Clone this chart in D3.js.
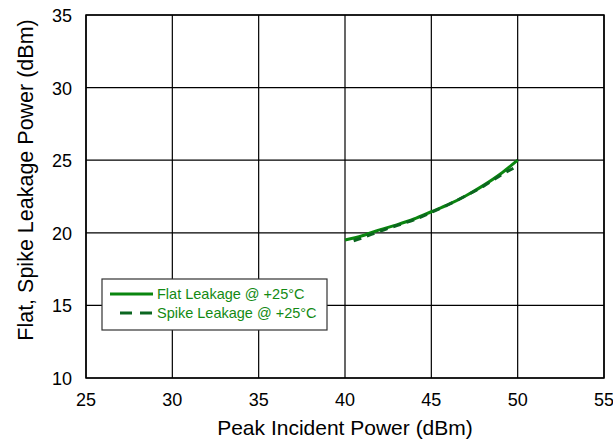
<!DOCTYPE html>
<html>
<head>
<meta charset="utf-8">
<script src="https://cdn.jsdelivr.net/npm/d3@7"></script>
<style>
  body { margin: 0; background: #fff; }
  svg { font-family: "Liberation Sans", Arial, sans-serif; }
</style>
</head>
<body>
<svg id="chart" width="613" height="443"></svg>
<script>
// data
let xTicks = [25, 30, 35, 40, 45, 50, 55];
let yTicks = [10, 15, 20, 25, 30, 35];
let flatPower = [40, 41, 42, 43, 44, 45, 46, 47, 48, 49, 50];
let flatLeak = [19.5, 19.8, 20.2, 20.55, 20.95, 21.45, 21.95, 22.55, 23.25, 24.05, 25.0];
let spikePower = [40.5, 41, 42, 43, 44, 45, 46, 47, 48, 49, 50];
let spikeLeak = [19.45, 19.65, 20.1, 20.5, 20.9, 21.4, 21.95, 22.55, 23.2, 23.95, 24.6];
let legendLabels = ['Flat Leakage @ +25°C', 'Spike Leakage @ +25°C'];

let svg = d3.select('#chart');
let margin = {left: 86, right: 9, top: 15, bottom: 65};
let w = 613, h = 443;

let x = d3.scaleLinear().domain([25, 55]).range([margin.left, w - margin.right]);
let y = d3.scaleLinear().domain([10, 35]).range([h - margin.bottom, margin.top]);

// grid
svg.append('g').selectAll('line').data(xTicks).join('line')
    .attr('x1', d => x(d)).attr('x2', d => x(d))
    .attr('y1', y(10)).attr('y2', y(35))
    .attr('stroke', '#000').attr('stroke-width', 1.2);
svg.append('g').selectAll('line').data(yTicks).join('line')
    .attr('x1', x(25)).attr('x2', x(55))
    .attr('y1', d => y(d)).attr('y2', d => y(d))
    .attr('stroke', '#000').attr('stroke-width', 1.2);
svg.append('rect')
    .attr('x', x(25)).attr('y', y(35))
    .attr('width', x(55) - x(25)).attr('height', y(10) - y(35))
    .attr('fill', 'none').attr('stroke', '#000').attr('stroke-width', 1.5);

// tick labels
svg.append('g').selectAll('text').data(xTicks).join('text')
    .attr('x', d => x(d)).attr('y', y(10) + 28)
    .attr('text-anchor', 'middle').attr('font-size', 18)
    .text(d => d);
svg.append('g').selectAll('text').data(yTicks).join('text')
    .attr('x', x(25) - 14).attr('y', d => y(d) + 7)
    .attr('text-anchor', 'end').attr('font-size', 18)
    .text(d => d);

// axis titles
svg.append('text')
    .attr('x', (x(25) + x(55)) / 2).attr('y', 435)
    .attr('text-anchor', 'middle').attr('font-size', 21)
    .text('Peak Incident Power (dBm)');
svg.append('text')
    .attr('transform', 'translate(33, 180) rotate(-90)')
    .attr('text-anchor', 'middle').attr('font-size', 21.5)
    .text('Flat, Spike Leakage Power (dBm)');

// lines
let line = d3.line().x(d => x(d[0])).y(d => y(d[1])).curve(d3.curveMonotoneX);
svg.append('path')
    .datum(d3.zip(flatPower, flatLeak))
    .attr('d', line)
    .attr('fill', 'none').attr('stroke', '#0a860f').attr('stroke-width', 3);
svg.append('path')
    .datum(d3.zip(spikePower, spikeLeak))
    .attr('d', line)
    .attr('fill', 'none').attr('stroke', '#0b6620').attr('stroke-width', 3)
    .attr('stroke-dasharray', '8,6');

// legend
let lg = svg.append('g');
lg.append('rect')
    .attr('x', 102).attr('y', 279).attr('width', 225).attr('height', 51)
    .attr('fill', '#fff').attr('stroke', '#333').attr('stroke-width', 1.2);
lg.append('line')
    .attr('x1', 110).attr('x2', 153).attr('y1', 294).attr('y2', 294)
    .attr('stroke', '#0a860f').attr('stroke-width', 3);
lg.append('line')
    .attr('x1', 120).attr('x2', 153).attr('y1', 313).attr('y2', 313)
    .attr('stroke', '#0b6620').attr('stroke-width', 3)
    .attr('stroke-dasharray', '12,8');
lg.selectAll('text').data(legendLabels).join('text')
    .attr('x', 157).attr('y', (d, i) => 299 + i * 19)
    .attr('font-size', 14.5).attr('fill', '#138a13')
    .text(d => d);
</script>
</body>
</html>
